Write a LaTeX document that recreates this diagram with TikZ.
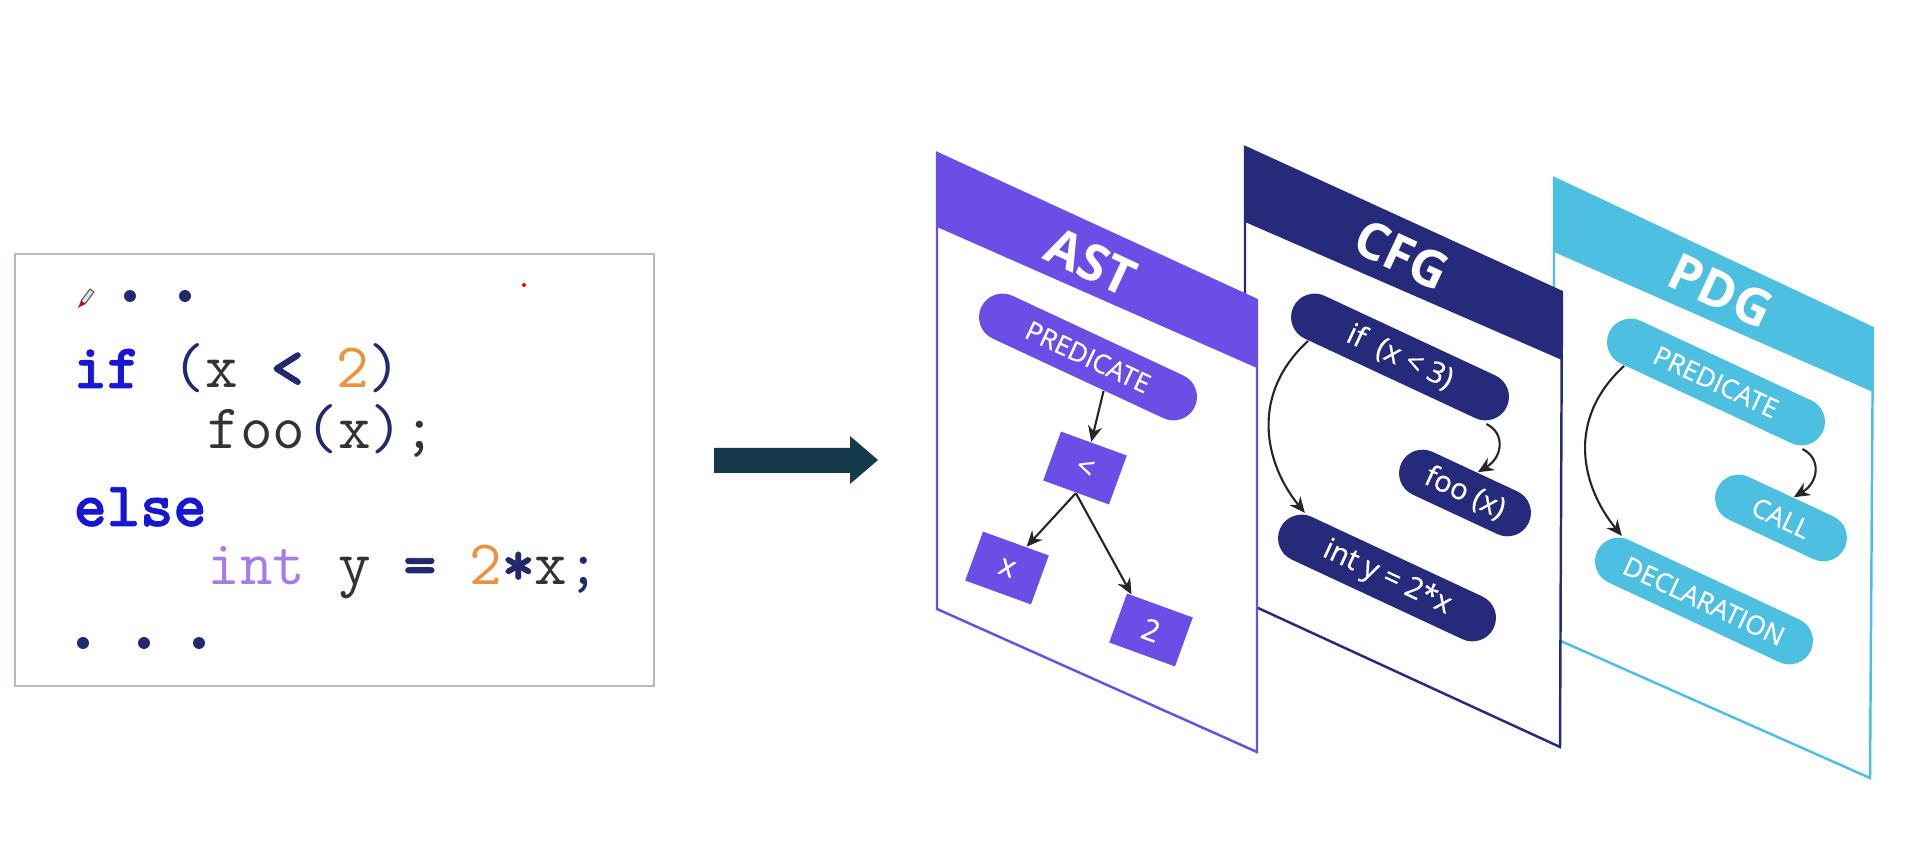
\documentclass[tikz,border=0pt]{standalone}
\usepackage{fontspec}
\setmainfont{Open Sans}
\newfontfamily\pillfont{Open Sans}[FakeBold=0.6]
\newfontfamily\kwfont{lmmonolt10-bold}[Extension=.otf,FakeBold=1.3]
\usetikzlibrary{calc,arrows.meta}
\definecolor{astc}{HTML}{6A4EE6}
\definecolor{cfgc}{HTML}{262A7A}
\definecolor{pdgc}{HTML}{4DBFE1}
\definecolor{kwblue}{HTML}{1616D4}
\definecolor{navy}{HTML}{22296E}
\definecolor{codegray}{HTML}{333333}
\definecolor{numorange}{HTML}{EA943C}
\definecolor{typpurple}{HTML}{A57DE6}
\definecolor{arrowteal}{HTML}{153A4C}
\definecolor{boxgray}{HTML}{B4BBC2}
\newcommand\codefont{\fontsize{18}{20}\selectfont\ttfamily}
\newcommand\kw{\kwfont}
\begin{document}
\begin{tikzpicture}[x=0.01cm,y=-0.01cm,
  codeline/.style={anchor=base west,inner sep=0pt,font=\codefont,text=codegray},
  pill/.style={fill=#1,text=white,rounded corners=6.7pt,minimum height=13.4pt,inner sep=0pt,rotate=-25,font=\pillfont\fontsize{7.5}{9}\selectfont},
  longpill/.style={pill=#1,minimum width=67pt},
  shortpill/.style={pill=#1,minimum width=40pt},
  sqbox/.style={fill=astc,text=white,minimum width=19.9pt,minimum height=14.8pt,inner sep=0pt,rotate=-20,font=\pillfont\fontsize{8.5}{10}\selectfont},
  title/.style={text=white,rotate=-25,font=\fontsize{14.5}{18}\selectfont\bfseries,inner sep=0pt},
  panel/.style={fill=white,draw=#1,line width=0.7pt},
  arr/.style={-{Stealth[length=4.5pt,width=4pt]},line width=0.6pt,black!85},
  dot/.style={circle,fill=navy,inner sep=0pt,minimum size=3.4pt}
]
\useasboundingbox (0,0) rectangle (1911,852);

% ---------------- code box ----------------
\draw[boxgray,line width=0.7pt] (15,254) rectangle (654,686);
\node[codeline] (c1) at (73,388) {{\kw\color{kwblue}if} {\color{navy}(}x {\kw\color{navy}<} {\color{numorange}2}{\color{navy})}};
\node[codeline] (c2) at (207,449) {foo{\color{navy}(}x{\color{navy})};};
\node[codeline] (c3) at (73,526) {{\kw\color{kwblue}else}};
\node[codeline] (c4) at (207,585) {{\color{typpurple}int} y {\kw\color{navy}=} {\color{numorange}2}{\kw\color{navy}*}x{\color{navy};}};
\node[dot] (d2) at (130,296) {};
\node[dot] (d3) at (185,296) {};
\node[dot] (e1) at (83,643) {};
\node[dot] (e2) at (144,643) {};
\node[dot] (e3) at (199,643) {};
% pen cursor
\filldraw[fill=gray!25,draw=gray!70!black,line width=0.3pt] (81,301) -- (90,289) -- (94,292) -- (85,304) -- cycle;
\fill[red!85!black] (81,301) -- (85,304) -- (78,308) -- cycle;
\fill[red] (524,285) circle (2);

% ---------------- arrow ----------------
\fill[arrowteal] (714,448) -- (850,448) -- (850,436) -- (878,460) -- (850,484) -- (850,473) -- (714,473) -- cycle;

% ---------------- PDG panel ----------------
\coordinate (p1) at (1554,178); \coordinate (p2) at (1873,328);
\coordinate (p3) at (1870,778); \coordinate (p4) at (1554,638);
\coordinate (p5) at (1873,392); \coordinate (p6) at (1554,252);
\filldraw[panel=pdgc] (p1) -- (p2) -- (p3) -- (p4) -- cycle;
\fill[pdgc] (p1) -- (p2) -- (p5) -- (p6) -- cycle;
\node[title] (tpdg) at (1721,291) {PDG};
\node[longpill=pdgc] (ppred) at (1716,382) {PREDICATE};
\node[shortpill=pdgc] (call) at (1781,518) {CALL};
\node[longpill=pdgc] (decl) at (1704,601) {DECLARATION};
\draw[arr] ($(ppred.south west)!0.12!(ppred.south east)$) .. controls +(-59,54) and +(-40,-49) .. ($(decl.north west)!0.07!(decl.north east)$);
\draw[arr] ($(ppred.south west)!0.95!(ppred.south east)$) .. controls +(19,9) and +(25,-15) .. ($(call.north west)!0.52!(call.north east)$);

% ---------------- CFG panel ----------------
\coordinate (b1) at (1245,147); \coordinate (b2) at (1562,292);
\coordinate (b3) at (1560,747); \coordinate (b4) at (1245,602);
\coordinate (b5) at (1562,360); \coordinate (b6) at (1245,222);
\filldraw[panel=cfgc] (b1) -- (b2) -- (b3) -- (b4) -- cycle;
\fill[cfgc] (b1) -- (b2) -- (b5) -- (b6) -- cycle;
\node[title] (tcfg) at (1402,255) {CFG};
\node[longpill=cfgc,font=\pillfont\fontsize{8.3}{10}\selectfont] (ifn) at (1400,357) {if\ \ (x < 3)};
\node[shortpill=cfgc,font=\pillfont\fontsize{8.3}{10}\selectfont] (foo) at (1465,493) {foo (x)};
\node[longpill=cfgc,font=\pillfont\fontsize{8.3}{10}\selectfont] (intn) at (1387,578) {int y = 2*x};
\draw[arr] ($(ifn.south west)!0.12!(ifn.south east)$) .. controls +(-59,54) and +(-40,-49) .. ($(intn.north west)!0.07!(intn.north east)$);
\draw[arr] ($(ifn.south west)!0.95!(ifn.south east)$) .. controls +(19,9) and +(25,-15) .. ($(foo.north west)!0.52!(foo.north east)$);

% ---------------- AST panel ----------------
\coordinate (a1) at (937,153); \coordinate (a2) at (1257,300);
\coordinate (a3) at (1257,752); \coordinate (a4) at (937,609);
\coordinate (a5) at (1257,368); \coordinate (a6) at (937,227);
\filldraw[panel=astc] (a1) -- (a2) -- (a3) -- (a4) -- cycle;
\fill[astc] (a1) -- (a2) -- (a5) -- (a6) -- cycle;
\node[title] (tast) at (1091,262) {AST};
\node[longpill=astc] (pred) at (1088,357) {PREDICATE};
\node[sqbox] (lt) at (1085,468) {<};
\node[sqbox] (xb) at (1007,568) {x};
\node[sqbox] (tb) at (1151,630) {2};
\draw[arr] ($(pred.south west)!0.62!(pred.south east)$) -- (lt);
\draw[arr] (lt.south) -- (xb);
\draw[arr] (lt.south) -- (tb);
\end{tikzpicture}
\end{document}
